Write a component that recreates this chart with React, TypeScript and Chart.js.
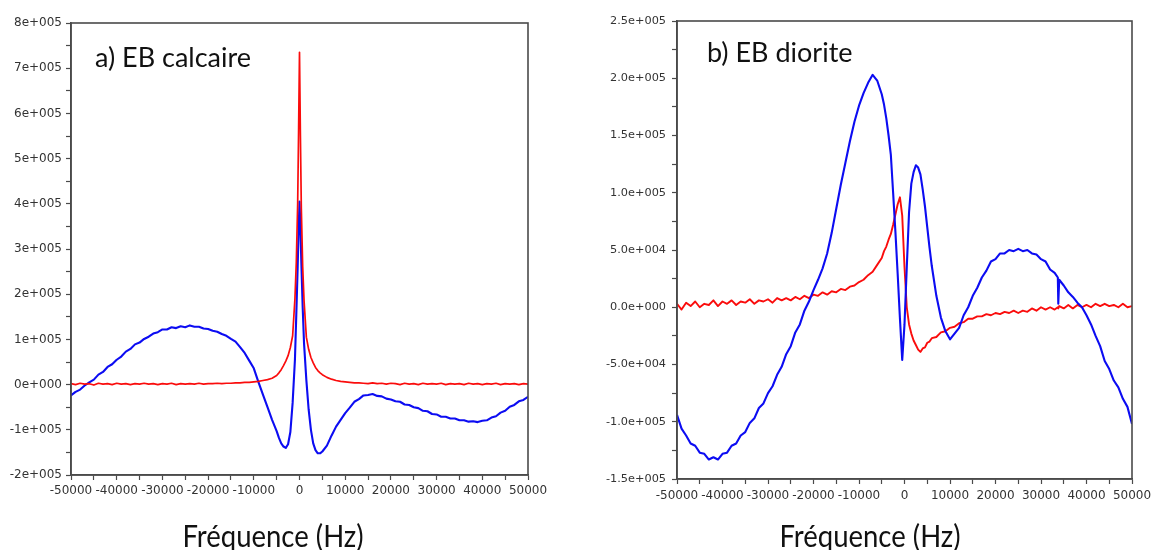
import React, { useEffect, useRef } from 'react';
import { Chart, registerables } from 'chart.js';

Chart.register(...registerables);

// ---------- Panel a) EB calcaire ----------
const freqA = [
  -50000, -49000, -48000, -47000, -46000, -45000, -44000, -43000, -42000, -41000,
  -40000, -39000, -38000, -37000, -36000, -35000, -34000, -33000, -32000, -31000,
  -30000, -29000, -28000, -27000, -26000, -25000, -24000, -23000, -22000, -21000,
  -20000, -19000, -18000, -17000, -16000, -15000, -14000, -13000, -12000, -11000,
  -10000, -9000, -8000, -7000, -6000, -5000,
  -4500, -4000, -3500, -3000, -2500, -2000, -1500, -1000, -700, -400, -200, 0,
  200, 400, 700, 1000, 1500, 2000, 2500, 3000, 3500, 4000, 4500,
  5000, 6000, 7000, 8000, 9000, 10000, 11000, 12000, 13000, 14000,
  15000, 16000, 17000, 18000, 19000, 20000, 21000, 22000, 23000, 24000,
  25000, 26000, 27000, 28000, 29000, 30000, 31000, 32000, 33000, 34000,
  35000, 36000, 37000, 38000, 39000, 40000, 41000, 42000, 43000, 44000,
  45000, 46000, 47000, 48000, 49000, 50000,
];
// values in units of 1e5
const blueA = [
  -0.24, -0.16, -0.11, -0.02, 0.05, 0.11, 0.22, 0.28, 0.39, 0.45,
  0.55, 0.62, 0.73, 0.79, 0.89, 0.93, 1.01, 1.06, 1.13, 1.16,
  1.22, 1.22, 1.27, 1.25, 1.29, 1.27, 1.31, 1.28, 1.28, 1.24,
  1.23, 1.19, 1.17, 1.12, 1.08, 1.01, 0.95, 0.83, 0.70, 0.53,
  0.36, 0.06, -0.22, -0.50, -0.78, -1.03,
  -1.18, -1.30, -1.37, -1.40, -1.32, -1.05, -0.40, 0.55, 1.55, 2.6, 3.4, 4.05,
  3.5, 2.7, 1.7, 0.9, 0.1, -0.55, -1.0, -1.3, -1.45, -1.52, -1.52,
  -1.48, -1.35, -1.13, -0.93, -0.78, -0.63, -0.51, -0.38, -0.32, -0.24,
  -0.23, -0.21, -0.25, -0.26, -0.31, -0.33, -0.37, -0.38, -0.44, -0.45,
  -0.50, -0.52, -0.58, -0.59, -0.65, -0.66, -0.71, -0.71, -0.75, -0.75,
  -0.79, -0.79, -0.82, -0.81, -0.83, -0.80, -0.79, -0.73, -0.70, -0.62,
  -0.58, -0.49, -0.45, -0.37, -0.34, -0.27,
];
const redA = [
  0.02, 0.00, 0.03, 0.01, 0.02, -0.01, 0.03, 0.01, 0.02, 0.00,
  0.03, 0.01, 0.02, 0.00, 0.02, 0.01, 0.03, 0.01, 0.02, 0.00,
  0.02, 0.01, 0.03, 0.00, 0.02, 0.01, 0.02, 0.01, 0.03, 0.01,
  0.02, 0.02, 0.03, 0.02, 0.03, 0.03, 0.04, 0.04, 0.05, 0.05,
  0.06, 0.07, 0.09, 0.11, 0.14, 0.20,
  0.26, 0.33, 0.42, 0.52, 0.64, 0.82, 1.08, 1.9, 2.7, 4.0, 5.6, 7.35,
  5.5, 3.9, 2.6, 1.85, 1.05, 0.78, 0.6, 0.48, 0.38, 0.31, 0.26,
  0.22, 0.16, 0.12, 0.09, 0.07, 0.06, 0.05, 0.04, 0.04, 0.03,
  0.02, 0.04, 0.02, 0.03, 0.01, 0.03, 0.02, 0.00, 0.03, 0.01,
  0.02, 0.00, 0.03, 0.01, 0.02, 0.01, 0.03, 0.00, 0.02, 0.01,
  0.02, 0.00, 0.03, 0.01, 0.02, 0.00, 0.02, 0.01, 0.03, 0.00,
  0.02, 0.01, 0.02, 0.00, 0.02, 0.01,
];
const yTickValsA = [-200000, -100000, 0, 100000, 200000, 300000, 400000, 500000, 600000, 700000, 800000];
const yTickLabelsA = ['-2e+005', '-1e+005', '0e+000', '1e+005', '2e+005', '3e+005', '4e+005', '5e+005', '6e+005', '7e+005', '8e+005'];

// ---------- Panel b) EB diorite ----------
const freqB = [
  -50000, -49000, -48000, -47000, -46000, -45000, -44000, -43000, -42000, -41000,
  -40000, -39000, -38000, -37000, -36000, -35000, -34000, -33000, -32000, -31000,
  -30000, -29000, -28000, -27000, -26000, -25000, -24000, -23000, -22000, -21000,
  -20000, -19000, -18000, -17000, -16000, -15000, -14000, -13000, -12000, -11000,
  -10000, -9000, -8000, -7000, -6000, -5000,
  -4500, -4000, -3500, -3000, -2500, -2000, -1500, -1000, -500, 0,
  500, 1000, 1500, 2000, 2500, 3000, 3500, 4000, 4500, 5000, 5500, 6000,
  7000, 8000, 9000, 10000, 11000, 12000, 13000, 14000, 15000, 16000,
  17000, 18000, 19000, 20000, 21000, 22000, 23000, 24000, 25000, 26000,
  27000, 28000, 29000, 30000, 31000, 32000, 33000, 33700, 33800, 34000,
  35000, 36000, 37000, 38000, 39000, 40000, 41000, 42000, 43000, 44000,
  45000, 46000, 47000, 48000, 49000, 50000,
];
// values in units of 1e4
const blueB = [
  -9.4, -10.6, -11.2, -11.9, -12.1, -12.7, -12.8, -13.3, -13.1, -13.3,
  -12.8, -12.7, -12.1, -11.9, -11.2, -10.9, -10.1, -9.7, -8.8, -8.4,
  -7.5, -6.9, -5.9, -5.2, -4.1, -3.4, -2.2, -1.5, -0.3, 0.5,
  1.5, 2.4, 3.4, 4.7, 6.5, 8.6, 10.7, 12.6, 14.5, 16.2,
  17.6, 18.7, 19.6, 20.3, 19.8, 18.6,
  17.7, 16.5, 15.0, 13.3, 10.0, 6.6, 2.9, -1.0, -4.6, -1.5,
  3.5, 8.3, 10.8, 11.8, 12.4, 12.2, 11.6, 10.3, 8.8, 7.0, 5.2, 3.6,
  1.0, -0.9, -2.1, -2.8, -2.3, -1.8, -0.7, 0.0, 1.0, 1.7,
  2.6, 3.2, 4.0, 4.2, 4.7, 4.7, 5.0, 4.9, 5.1, 4.9,
  5.0, 4.7, 4.6, 4.2, 4.0, 3.3, 3.0, 2.6, 0.3, 2.4,
  1.9, 1.3, 0.9, 0.4, 0.0, -0.7, -1.5, -2.5, -3.4, -4.7,
  -5.4, -6.4, -7.0, -8.0, -8.7, -10.2,
];
const redB = [
  0.3, -0.2, 0.4, 0.1, 0.5, 0.0, 0.3, 0.2, 0.6, 0.1,
  0.5, 0.3, 0.6, 0.2, 0.5, 0.4, 0.7, 0.3, 0.6, 0.5,
  0.7, 0.4, 0.8, 0.6, 0.8, 0.6, 0.9, 0.7, 1.0, 0.8,
  1.1, 1.0, 1.3, 1.1, 1.4, 1.3, 1.6, 1.5, 1.8, 1.9,
  2.2, 2.4, 2.8, 3.1, 3.7, 4.3,
  4.9, 5.3, 5.9, 6.4, 7.2, 8.1, 9.0, 9.6, 8.0, 3.5,
  0.0, -1.5, -2.3, -2.9, -3.3, -3.7, -3.9, -3.6, -3.5, -3.1, -3.0, -2.7,
  -2.6, -2.2, -2.1, -1.8, -1.7, -1.4, -1.3, -1.0, -1.0, -0.8,
  -0.8, -0.6, -0.7, -0.5, -0.6, -0.4, -0.5, -0.3, -0.5, -0.3,
  -0.4, -0.1, -0.3, 0.0, -0.2, 0.0, -0.2, 0.0, -0.1, 0.1,
  -0.1, 0.2, -0.1, 0.2, 0.0, 0.2, 0.0, 0.3, 0.1, 0.3,
  0.1, 0.2, 0.0, 0.3, 0.0, 0.1,
];
const yTickValsB = [-150000, -100000, -50000, 0, 50000, 100000, 150000, 200000, 250000];
const yTickLabelsB = ['-1.5e+005', '-1.0e+005', '-5.0e+004', '0.0e+000', '5.0e+004', '1.0e+005', '1.5e+005', '2.0e+005', '2.5e+005'];

// ---------- shared x ticks ----------
const xTickVals = [-50000, -40000, -30000, -20000, -10000, 0, 10000, 20000, 30000, 40000, 50000];
const xTickLabels = ['-50000', '-40000', '-30000', '-20000', '-10000', '0', '10000', '20000', '30000', '40000', '50000'];

const AXIS_COLOR = '#4a4a4a';
const TICK_TEXT = '#333333';
const BLUE = '#0c0cf2';
const RED = '#fa0c0c';

function withMinor(vals: number[]) {
  const out = [...vals];
  for (let i = 0; i < vals.length - 1; i++) out.push((vals[i] + vals[i + 1]) / 2);
  return out.sort((a, b) => a - b).map((v) => ({ value: v }));
}

function toPoints(xs: number[], ys: number[], unit: number) {
  return xs.map((x, i) => ({ x, y: ys[i] * unit }));
}

type PanelCfg = {
  blue: { x: number; y: number }[];
  red: { x: number; y: number }[];
  redOnTop: boolean;
  blueWidth: number;
  redWidth: number;
  yMin: number;
  yMax: number;
  yVals: number[];
  yLabels: string[];
  yWidth: number;
  yFontSize: number;
  yPad: number;
  xHeight: number;
  xPad: number;
  padding: { top: number; right: number; bottom: number; left: number };
  label: string;
  labelX: number;
  labelY: number;
  titleX: number;
  titleY: number;
};

function makeChart(canvas: HTMLCanvasElement, cfg: PanelCfg) {
  const blueDs = {
    label: 'blue',
    data: cfg.blue,
    borderColor: BLUE,
    borderWidth: cfg.blueWidth,
    pointRadius: 0,
    tension: 0,
    borderJoinStyle: 'round' as const,
  };
  const redDs = {
    label: 'red',
    data: cfg.red,
    borderColor: RED,
    borderWidth: cfg.redWidth,
    pointRadius: 0,
    tension: 0,
    borderJoinStyle: 'round' as const,
  };
  const datasets = cfg.redOnTop ? [redDs, blueDs] : [blueDs, redDs];

  const framePlugin = {
    id: 'frame',
    afterDraw(chart: any) {
      const { ctx, chartArea } = chart;
      ctx.save();
      ctx.strokeStyle = AXIS_COLOR;
      ctx.lineWidth = 1.6;
      ctx.strokeRect(chartArea.left, chartArea.top, chartArea.right - chartArea.left, chartArea.bottom - chartArea.top);
      ctx.fillStyle = '#111111';
      ctx.textAlign = 'left';
      ctx.textBaseline = 'alphabetic';
      ctx.font = '27px Lato';
      ctx.fillText(cfg.label, cfg.labelX, cfg.labelY);
      ctx.translate(cfg.titleX, cfg.titleY);
      ctx.scale(1, 1.15);
      ctx.textAlign = 'center';
      ctx.font = '27.5px Lato';
      ctx.fillText('Fréquence (Hz)', 0, 0);
      ctx.restore();
    },
  };

  return new Chart(canvas, {
    type: 'line',
    data: { datasets: datasets as any },
    plugins: [framePlugin],
    options: {
      responsive: false,
      animation: false,
      events: [],
      layout: { padding: cfg.padding },
      plugins: { legend: { display: false }, tooltip: { enabled: false }, title: { display: false } },
      scales: {
        x: {
          type: 'linear',
          min: -50000,
          max: 50000,
          afterBuildTicks: (scale: any) => {
            scale.ticks = withMinor(xTickVals);
          },
          afterFit: (scale: any) => {
            scale.height = cfg.xHeight;
          },
          grid: {
            display: true,
            drawOnChartArea: false,
            drawTicks: true,
            tickLength: 5,
            tickColor: AXIS_COLOR,
            tickWidth: 1.2,
          },
          border: { display: true, color: AXIS_COLOR, width: 1.6 },
          ticks: {
            autoSkip: false,
            maxRotation: 0,
            minRotation: 0,
            padding: cfg.xPad,
            color: TICK_TEXT,
            font: { family: 'DejaVu Sans', size: 12 },
            callback: (v: any) => {
              const i = xTickVals.indexOf(Number(v));
              return i >= 0 ? xTickLabels[i] : '';
            },
          },
        },
        y: {
          type: 'linear',
          min: cfg.yMin,
          max: cfg.yMax,
          afterBuildTicks: (scale: any) => {
            scale.ticks = withMinor(cfg.yVals);
          },
          afterFit: (scale: any) => {
            scale.width = cfg.yWidth;
          },
          grid: {
            display: true,
            drawOnChartArea: false,
            drawTicks: true,
            tickLength: 5,
            tickColor: AXIS_COLOR,
            tickWidth: 1.2,
          },
          border: { display: true, color: AXIS_COLOR, width: 1.6 },
          ticks: {
            autoSkip: false,
            padding: cfg.yPad,
            color: TICK_TEXT,
            font: { family: 'DejaVu Sans', size: cfg.yFontSize },
            callback: (v: any) => {
              const i = cfg.yVals.indexOf(Number(v));
              return i >= 0 ? cfg.yLabels[i] : '';
            },
          },
        },
      },
    },
  });
}

export default function App() {
  const leftRef = useRef<HTMLCanvasElement | null>(null);
  const rightRef = useRef<HTMLCanvasElement | null>(null);

  useEffect(() => {
    document.body.style.margin = '0';
    document.body.style.background = '#ffffff';
    const charts: Chart[] = [];
    if (leftRef.current) {
      charts.push(
        makeChart(leftRef.current, {
          blue: toPoints(freqA, blueA, 1e5),
          red: toPoints(freqA, redA, 1e5),
          redOnTop: true,
          blueWidth: 2.1,
          redWidth: 1.7,
          yMin: -200000,
          yMax: 800000,
          yVals: yTickValsA,
          yLabels: yTickLabelsA,
          yWidth: 71,
          yFontSize: 12,
          yPad: 4,
          xHeight: 75,
          xPad: 4,
          padding: { top: 23, right: 47, bottom: 0, left: 0 },
          label: 'a) EB calcaire',
          labelX: 95,
          labelY: 67,
          titleX: 273,
          titleY: 547,
        })
      );
    }
    if (rightRef.current) {
      charts.push(
        makeChart(rightRef.current, {
          blue: toPoints(freqB, blueB, 1e4),
          red: toPoints(freqB, redB, 1e4),
          redOnTop: false,
          blueWidth: 2.1,
          redWidth: 1.9,
          yMin: -150000,
          yMax: 250000,
          yVals: yTickValsB,
          yLabels: yTickLabelsB,
          yWidth: 101,
          yFontSize: 11.3,
          yPad: 6,
          xHeight: 71,
          xPad: 5,
          padding: { top: 21, right: 39, bottom: 0, left: 0 },
          label: 'b) EB diorite',
          labelX: 131,
          labelY: 62,
          titleX: 294,
          titleY: 547,
        })
      );
    }
    return () => {
      charts.forEach((c) => c.destroy());
    };
  }, []);

  return (
    <div style={{ position: 'fixed', left: 0, top: 0, width: 1151, height: 550, background: '#ffffff', overflow: 'hidden' }}>
      <canvas ref={leftRef} width={575} height={550} style={{ position: 'absolute', left: 0, top: 0, width: 575, height: 550 }} />
      <canvas ref={rightRef} width={595} height={550} style={{ position: 'absolute', left: 576, top: 0, width: 595, height: 550 }} />
    </div>
  );
}
